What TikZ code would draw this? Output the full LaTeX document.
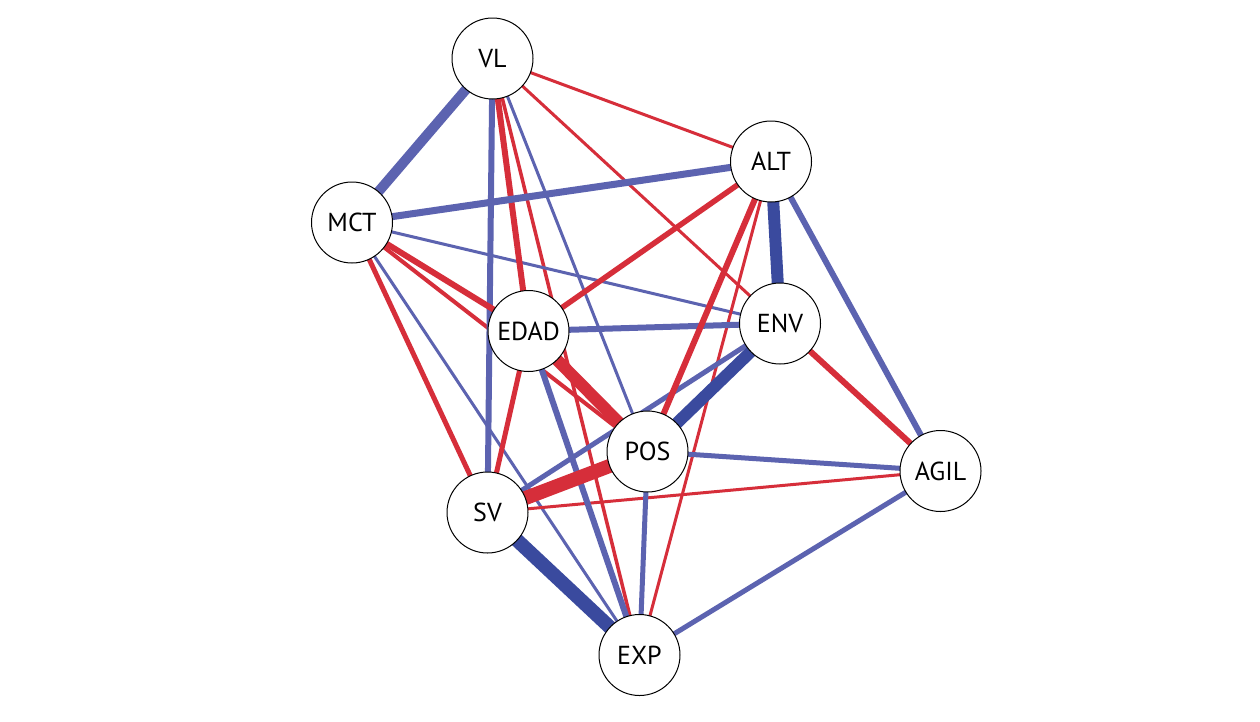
\documentclass[tikz,border=0pt]{standalone}
\usepackage{fontspec}
\setmainfont{PT Sans}
\definecolor{ered}{RGB}{214,46,58}
\definecolor{eblue}{RGB}{92,99,176}
\definecolor{edark}{RGB}{58,74,158}
\pgfdeclarelayer{bg}
\pgfdeclarelayer{paper}
\pgfsetlayers{paper,bg,main}
\begin{document}
\begin{tikzpicture}[x=1pt,y=-1pt,
  vn/.style={circle,draw=black,line width=1pt,fill=white,minimum size=81pt,inner sep=0pt,font=\fontsize{26}{26}\selectfont},
  rl/.style={draw=ered,line width=#1pt},
  bl/.style={draw=eblue,line width=#1pt},
  dl/.style={draw=edark,line width=#1pt}]
\useasboundingbox (0,0) rectangle (1260,721);
\begin{pgfonlayer}{paper}
\fill[white] (0,0) rectangle (1260,721);
\end{pgfonlayer}
\node[vn] (VL) at (492.5,58.5) {VL};
\node[vn] (ALT) at (771,161.5) {ALT};
\node[vn] (MCT) at (352,222.5) {MCT};
\node[vn] (EDAD) at (528.5,331) {EDAD};
\node[vn] (ENV) at (780,323.5) {ENV};
\node[vn] (POS) at (647.5,451.5) {POS};
\node[vn] (AGIL) at (940.5,471) {AGIL};
\node[vn] (SV) at (487.5,512.5) {SV};
\node[vn] (EXP) at (639.5,655) {EXP};
\begin{pgfonlayer}{bg}
% thin edges
\draw[rl=3] (VL.center) -- (ALT.center);
\draw[rl=3] (VL.center) -- (ENV.center);
\draw[bl=3] (VL.center) -- (POS.center);
\draw[rl=3.5] (VL.center) -- (EXP.center);
\draw[bl=3] (MCT.center) -- (ENV.center);
\draw[bl=3] (MCT.center) -- (EXP.center);
\draw[rl=3] (ALT.center) -- (EXP.center);
\draw[rl=3] (AGIL.center) -- (SV.center);
\draw[rl=4] (MCT.center) -- (POS.center);
% medium edges
\draw[bl=5] (POS.center) -- (AGIL.center);
\draw[bl=5] (POS.center) -- (EXP.center);
\draw[bl=5] (AGIL.center) -- (EXP.center);
\draw[bl=5] (ENV.center) -- (SV.center);
\draw[rl=5] (MCT.center) -- (SV.center);
\draw[rl=5] (EDAD.center) -- (SV.center);
\draw[rl=5.5] (EDAD.center) -- (ALT.center);
\draw[bl=6] (VL.center) -- (SV.center);
\draw[rl=6] (VL.center) -- (EDAD.center);
\draw[rl=6] (MCT.center) -- (EDAD.center);
\draw[bl=6] (EDAD.center) -- (ENV.center);
\draw[bl=6] (EDAD.center) -- (EXP.center);
\draw[bl=6] (ALT.center) -- (AGIL.center);
\draw[rl=6] (ALT.center) -- (POS.center);
\draw[rl=6] (ENV.center) -- (AGIL.center);
\draw[bl=7] (MCT.center) -- (ALT.center);
\draw[bl=10] (VL.center) -- (MCT.center);
% thick edges
\draw[rl=12] (EDAD.center) -- (POS.center);
\draw[dl=12] (ALT.center) -- (ENV.center);
\draw[dl=12] (ENV.center) -- (POS.center);
\draw[rl=14] (POS.center) -- (SV.center);
\draw[dl=14] (SV.center) -- (EXP.center);
\end{pgfonlayer}
\end{tikzpicture}
\end{document}
